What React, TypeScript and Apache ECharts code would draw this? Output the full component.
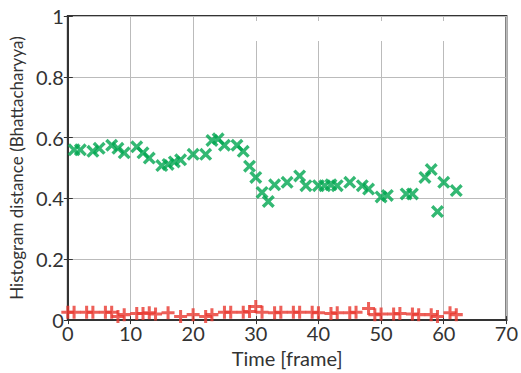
import React, { useEffect, useRef } from "react";
import * as echarts from "echarts";

const greenFrames = [1, 2, 4, 5, 7, 8, 9, 11, 12, 13, 15, 16, 17, 18, 20, 22, 23, 24, 25, 27, 28, 29, 30, 31, 32, 33, 35, 37, 38, 40, 41, 42, 43, 45, 47, 48, 50, 51, 54, 55, 57, 58, 59, 60, 62];
const greenValues = [0.56, 0.56, 0.555, 0.565, 0.575, 0.565, 0.55, 0.57, 0.55, 0.533, 0.508, 0.512, 0.52, 0.527, 0.545, 0.545, 0.591, 0.596, 0.575, 0.575, 0.555, 0.506, 0.469, 0.42, 0.39, 0.445, 0.453, 0.474, 0.442, 0.442, 0.442, 0.445, 0.442, 0.453, 0.442, 0.431, 0.405, 0.41, 0.415, 0.415, 0.469, 0.495, 0.357, 0.453, 0.426];

const redFrames = [0, 1, 3, 4, 6, 7, 8, 9, 11, 12, 13, 14, 16, 18, 20, 22, 23, 25, 26, 28, 29, 30, 31, 33, 34, 36, 37, 39, 40, 42, 43, 45, 46, 48, 49, 50, 52, 53, 55, 56, 58, 59, 61, 62];
const redValues = [0.026, 0.026, 0.026, 0.026, 0.026, 0.026, 0.012, 0.018, 0.022, 0.022, 0.024, 0.02, 0.024, 0.012, 0.018, 0.012, 0.018, 0.026, 0.026, 0.026, 0.028, 0.045, 0.026, 0.024, 0.026, 0.026, 0.026, 0.026, 0.024, 0.022, 0.024, 0.024, 0.026, 0.038, 0.018, 0.02, 0.02, 0.022, 0.02, 0.018, 0.018, 0.012, 0.024, 0.018];

const xTicks = [0, 10, 20, 30, 40, 50, 60, 70];
const yTicks = [0, 0.2, 0.4, 0.6, 0.8, 1];

const X_PATH = "path://M0,2.2 L2.2,0 L6,3.8 L9.8,0 L12,2.2 L8.2,6 L12,9.8 L9.8,12 L6,8.2 L2.2,12 L0,9.8 L3.8,6 Z";
const PLUS_PATH = "path://M4.6,0 H7.4 V4.6 H12 V7.4 H7.4 V12 H4.6 V7.4 H0 V4.6 H4.6 Z";

const FONT = "Lato";

export default function App() {
  const ref = useRef<HTMLDivElement>(null);
  useEffect(() => {
    if (!ref.current) return;
    const chart = echarts.init(ref.current, undefined, { renderer: "svg" });
    const green = greenFrames.map((f, i) => [f, greenValues[i]]);
    const red = redFrames.map((f, i) => [f, redValues[i]]);
    chart.setOption({
      animation: false,
      backgroundColor: "#ffffff",
      grid: {
        left: 67,
        right: 10,
        top: 16,
        bottom: 42,
        show: true,
        borderColor: "#333",
        borderWidth: 2,
        backgroundColor: "transparent",
      },
      xAxis: [
        {
          type: "value",
          min: xTicks[0],
          max: xTicks[xTicks.length - 1],
          interval: 10,
          name: "Time [frame]",
          nameLocation: "middle",
          nameGap: 22,
          nameTextStyle: { fontFamily: FONT, fontSize: 20, color: "#333" },
          axisLine: { show: true, lineStyle: { color: "#333", width: 2 } },
          axisTick: { show: true, inside: true, length: 4, lineStyle: { color: "#333" } },
          axisLabel: { fontFamily: FONT, fontSize: 20, color: "#333", margin: 3 },
          splitLine: { show: true, lineStyle: { color: "#bbb", width: 1 } },
        },
        {
          type: "value",
          position: "top",
          min: 0,
          max: 70,
          interval: 10,
          axisLine: { show: false },
          axisTick: { show: true, inside: true, length: 4, lineStyle: { color: "#333" } },
          axisLabel: { show: false },
          splitLine: { show: false },
        },
      ],
      yAxis: [
        {
          type: "value",
          min: yTicks[0],
          max: yTicks[yTicks.length - 1],
          interval: 0.2,
          name: "Histogram distance (Bhattacharyya)",
          nameLocation: "middle",
          nameGap: 42,
          nameTextStyle: { fontFamily: FONT, fontSize: 17, color: "#333" },
          axisLine: { show: true, lineStyle: { color: "#333", width: 2 } },
          axisTick: { show: true, inside: true, length: 5, lineStyle: { color: "#333" } },
          axisLabel: {
            fontFamily: FONT,
            fontSize: 20,
            color: "#333",
            margin: 4,
            formatter: (v: number) => String(+v.toFixed(1)),
          },
          splitLine: { show: true, lineStyle: { color: "#bbb", width: 1 } },
        },
        {
          type: "value",
          position: "right",
          min: 0,
          max: 1,
          interval: 0.2,
          axisLine: { show: false },
          axisTick: { show: true, inside: true, length: 4, lineStyle: { color: "#333" } },
          axisLabel: { show: false },
          splitLine: { show: false },
        },
      ],
      graphic: [
        {
          type: "rect",
          z: 1,
          shape: { x: 250, y: 21, width: 255, height: 20 },
          style: { fill: "#ffffff" },
          silent: true,
        },
      ],
      series: [
        {
          type: "scatter",
          data: green,
          symbol: X_PATH,
          symbolSize: 13,
          itemStyle: { color: "#00a650" },
          z: 3,
        },
        {
          type: "scatter",
          data: red,
          symbol: PLUS_PATH,
          symbolSize: 13,
          itemStyle: { color: "#e8382f" },
          z: 3,
        },
      ],
    });
    return () => chart.dispose();
  }, []);
  return <div ref={ref} style={{ width: 521, height: 373, position: "absolute", left: 0, top: 0 }} />;
}
